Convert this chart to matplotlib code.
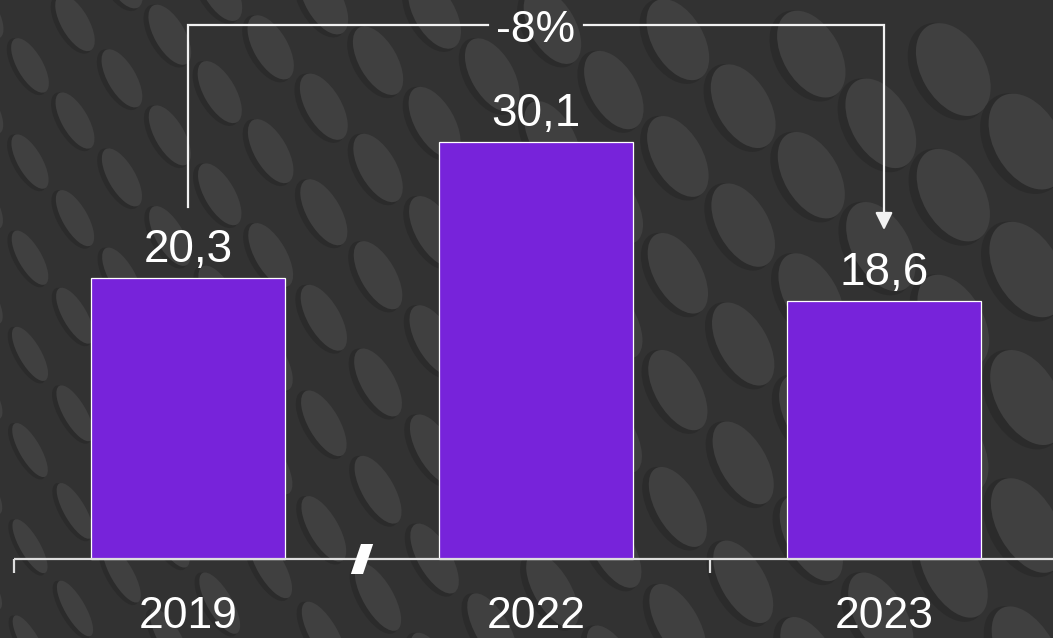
import matplotlib.pyplot as plt
import numpy as np
from matplotlib.patches import Ellipse, Polygon

plt.rcParams['font.family'] = ['Liberation Sans', 'DejaVu Sans']

# data
years = ['2019', '2022', '2023']
values = [20.3, 30.1, 18.6]
value_labels = ['20,3', '30,1', '18,6']
change_label = '-8%'

bar_color = '#7723DA'
line_color = '#f2f2f2'
bg_color = '#323232'

W, H = 1053, 638
fig = plt.figure(figsize=(W / 100, H / 100), dpi=100)
fig.patch.set_facecolor(bg_color)

# background: tilted discs pattern (decoration only)
bg = fig.add_axes([0, 0, 1, 1])
bg.set_xlim(0, W)
bg.set_ylim(0, H)
bg.axis('off')
bg.set_facecolor(bg_color)
for row in range(15):
    x = -60 + (row % 2) * 45
    while x < W + 80:
        s = 0.6 + 0.45 * max(x, 0) / W
        y_img = (row * 56 - 40) * (0.85 + 0.3 * max(x, 0) / W) + 0.12 * x
        y_up = H - y_img
        r = 0.3 + 0.25 * max(x, 0) / W + 0.12 * (y_up / H)
        M = 100 * s
        m = M * r
        bg.add_patch(Ellipse((x - 5 * s, y_up - 2 * s), M * 1.04, m * 1.12, angle=-60,
                             facecolor='#2b2b2b', edgecolor='none'))
        bg.add_patch(Ellipse((x, y_up), M, m, angle=-60,
                             facecolor='#404040', edgecolor='none'))
        x += 150 * s

# main chart
ax = fig.add_axes([0, 0, 1, 1])
ax.set_facecolor('none')
ax.axis('off')
px = 13.85  # pixels per unit
ax.set_ylim(-(H - 559) / px, 559 / px)
ax.set_xlim(-0.5 - 14 / 348, -0.5 + (W - 14) / 348)

x = np.arange(len(years))
ax.bar(x, values, width=0.555, color=bar_color, edgecolor='white', linewidth=0.9, zorder=3)

for xi, v, lab in zip(x, values, value_labels):
    ax.annotate(lab, (xi, v), xytext=(0, 11.5), textcoords='offset points',
                ha='center', va='baseline', fontsize=33, color='white')

for xi, yr in zip(x, years):
    ax.text(xi, -69 / px, yr, ha='center', va='baseline', fontsize=32, color='white')

# axis line, ticks and break mark
ax.plot([-0.5, 2.6], [0, 0], color='#dedede', lw=1.6, zorder=4, solid_capstyle='butt')
for t in [-0.5, 1.5]:
    ax.plot([t, t], [0, -14 / px], color='#dedede', lw=1.6, zorder=4, solid_capstyle='butt')
ax.add_patch(Polygon([(0.468, -15 / px), (0.503, -15 / px),
                      (0.532, 15 / px), (0.497, 15 / px)],
                     closed=True, facecolor='white', edgecolor='none', zorder=5))

# bracket with change label
top = max(values) + 8.45
left_bottom = values[0] + 5.1
right_tip = values[2] + 5.15
gap = 0.138
ax.plot([x[0], x[0], 1 - gap], [left_bottom, top, top], color=line_color, lw=1.6,
        zorder=4, solid_joinstyle='miter')
ax.plot([1 + gap, x[2], x[2]], [top, top, right_tip + 1.0], color=line_color, lw=1.6,
        zorder=4, solid_joinstyle='miter')
ax.annotate('', xy=(x[2], right_tip), xytext=(x[2], right_tip + 1.2),
            arrowprops=dict(arrowstyle='-|>,head_length=1.05,head_width=0.52',
                            color=line_color, lw=1.6, shrinkA=0, shrinkB=0), zorder=4)
ax.text(1, top - 17 / px, change_label, ha='center', va='baseline', fontsize=32, color='white')

fig.savefig('out.png', dpi=100, facecolor=fig.get_facecolor())
